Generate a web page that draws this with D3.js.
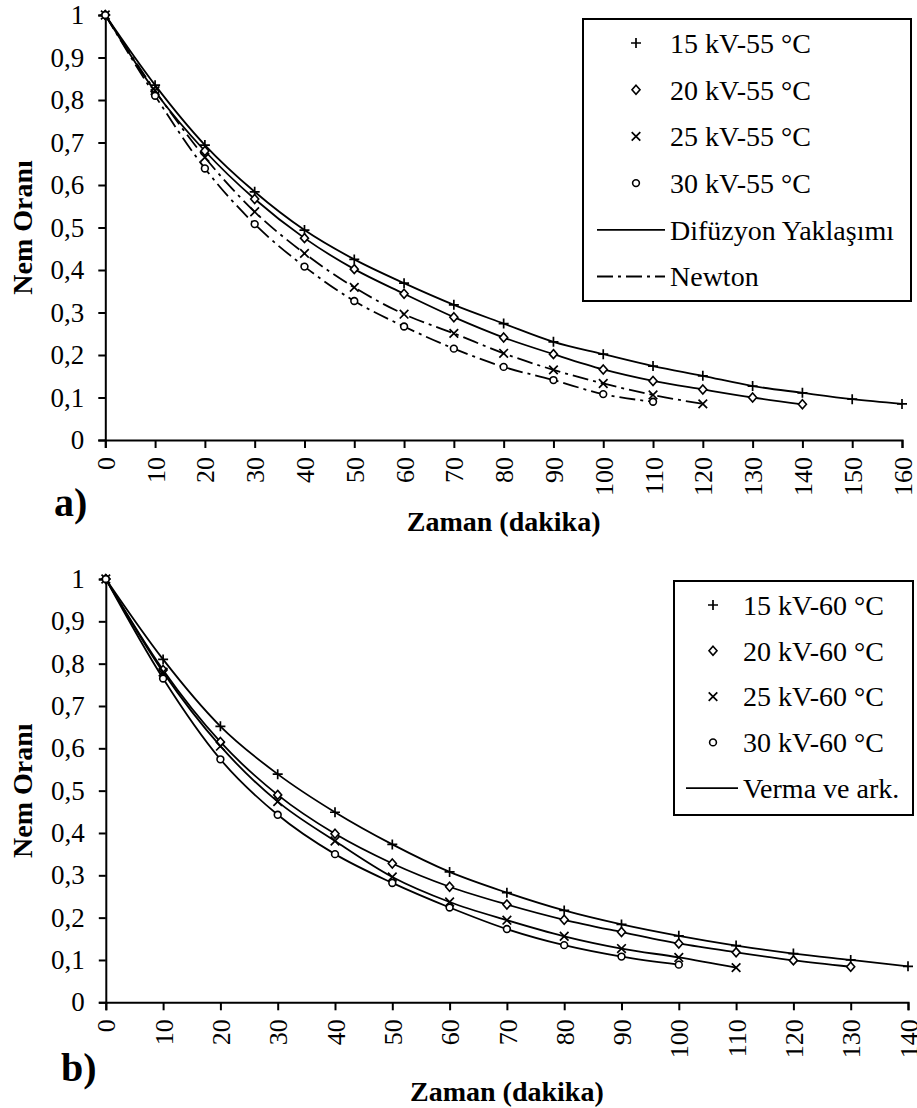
<!DOCTYPE html>
<html>
<head>
<meta charset="utf-8">
<script src="https://cdn.jsdelivr.net/npm/d3@7"></script>
<style>
  body { margin: 0; background: #fff; }
  svg text { font-family: "Liberation Serif", "Times New Roman", serif; fill: #000; }
</style>
</head>
<body>
<script>
// --- data ---
var yTicks = [0, 0.1, 0.2, 0.3, 0.4, 0.5, 0.6, 0.7, 0.8, 0.9, 1];

// panel a) 55 °C
var timeA = [0, 10, 20, 30, 40, 50, 60, 70, 80, 90, 100, 110, 120, 130, 140, 150, 160];
var mr15A = [1, 0.835, 0.694, 0.584, 0.494, 0.425, 0.369, 0.318, 0.274, 0.231, 0.202, 0.174, 0.151, 0.127, 0.111, 0.096, 0.085];
var mr20A = [1, 0.82, 0.68, 0.567, 0.475, 0.402, 0.344, 0.289, 0.241, 0.202, 0.166, 0.139, 0.119, 0.100, 0.084];
var mr25A = [1, 0.822, 0.665, 0.537, 0.439, 0.359, 0.296, 0.251, 0.204, 0.165, 0.133, 0.106, 0.085];
var mr30A = [1, 0.81, 0.639, 0.508, 0.408, 0.327, 0.267, 0.215, 0.172, 0.141, 0.108, 0.090];
var labelsA = ["15 kV-55 °C", "20 kV-55 °C", "25 kV-55 °C", "30 kV-55 °C"];

// panel b) 60 °C
var timeB = [0, 10, 20, 30, 40, 50, 60, 70, 80, 90, 100, 110, 120, 130, 140];
var mr15B = [1, 0.81, 0.652, 0.539, 0.449, 0.373, 0.308, 0.259, 0.217, 0.184, 0.157, 0.134, 0.115, 0.100, 0.085];
var mr20B = [1, 0.785, 0.615, 0.49, 0.398, 0.328, 0.273, 0.231, 0.195, 0.166, 0.139, 0.118, 0.099, 0.084];
var mr25B = [1, 0.78, 0.605, 0.474, 0.381, 0.296, 0.237, 0.194, 0.156, 0.127, 0.106, 0.082];
var mr30B = [1, 0.765, 0.574, 0.443, 0.35, 0.282, 0.224, 0.173, 0.135, 0.108, 0.089];
var labelsB = ["15 kV-60 °C", "20 kV-60 °C", "25 kV-60 °C", "30 kV-60 °C"];

var markers = ["plus", "diamond", "cross", "circle"];
var dashDot = "16,5,3,5";
var serif = "'Liberation Serif', 'Times New Roman', serif";

var fmt = d3.formatLocale({decimal: ",", thousands: ".", grouping: [3], currency: ["", ""]}).format(".1~f");

var svg = d3.select("body").append("svg")
    .attr("width", 917)
    .attr("height", 1108)
    .style("font-family", serif);

function drawMarker(g, type) {
  if (type == "plus") {
    g.append("path").attr("d", "M-5,0H5M0,-5V5").attr("stroke", "#000").attr("stroke-width", 1.7).attr("fill", "none");
  } else if (type == "diamond") {
    g.append("path").attr("d", "M0,-4.5L4,0L0,4.5L-4,0Z").attr("stroke", "#000").attr("stroke-width", 1.6).attr("fill", "#fff");
  } else if (type == "cross") {
    g.append("path").attr("d", "M-4.3,-4.3L4.3,4.3M-4.3,4.3L4.3,-4.3").attr("stroke", "#000").attr("stroke-width", 1.7).attr("fill", "none");
  } else {
    g.append("circle").attr("r", 3.4).attr("stroke", "#000").attr("stroke-width", 1.6).attr("fill", "#fff");
  }
}

function drawPanel(p) {
  var x = d3.scaleLinear().domain([0, p.xMax]).range([p.left, p.right]);
  var y = d3.scaleLinear().domain([0, 1]).range([p.bottom, p.top]);
  var g = svg.append("g");

  // axes
  var yAxis = g.append("g")
      .attr("transform", "translate(" + p.left + ",0)")
      .call(d3.axisLeft(y).tickValues(yTicks).tickFormat(fmt).tickSize(7).tickPadding(14));
  var xAxis = g.append("g")
      .attr("transform", "translate(0," + p.bottom + ")")
      .call(d3.axisBottom(x).tickValues(p.time).tickFormat(d3.format("d")).tickSize(8));
  yAxis.attr("font-family", serif);
  xAxis.attr("font-family", serif);
  g.selectAll(".domain").attr("stroke", "#000").attr("stroke-width", 2);
  g.selectAll(".tick line").attr("stroke", "#000").attr("stroke-width", 2);
  yAxis.selectAll("text").attr("font-size", "27px");
  xAxis.selectAll("text")
      .attr("font-size", "26px")
      .attr("text-anchor", "end")
      .attr("transform", "rotate(-90)")
      .attr("x", -17)
      .attr("y", 0)
      .attr("dy", "0.35em");

  // lines + points
  var line = d3.line()
      .x(function(d) { return x(d[0]); })
      .y(function(d) { return y(d[1]); })
      .curve(d3.curveMonotoneX);

  p.series.forEach(function(s, i) {
    var pts = s.values.map(function(v, j) { return [p.time[j], v]; });
    g.append("path")
        .datum(pts)
        .attr("d", line)
        .attr("fill", "none")
        .attr("stroke", "#000")
        .attr("stroke-width", 1.8)
        .attr("stroke-dasharray", s.dash ? dashDot : null);
    g.selectAll(".pt" + i)
        .data(pts)
        .enter()
        .append("g")
        .attr("transform", function(d) { return "translate(" + x(d[0]) + "," + y(d[1]) + ")"; })
        .each(function() { drawMarker(d3.select(this), markers[i]); });
  });

  // legend
  var lg = p.legend;
  g.append("rect")
      .attr("x", lg.x).attr("y", lg.y)
      .attr("width", lg.w).attr("height", lg.h)
      .attr("fill", "#fff").attr("stroke", "#000").attr("stroke-width", 2);
  lg.rows.forEach(function(r, i) {
    var cy = lg.y + lg.first + i * lg.step;
    if (r.marker) {
      var mg = g.append("g").attr("transform", "translate(" + lg.mx + "," + cy + ")");
      drawMarker(mg, r.marker);
    } else {
      g.append("line")
          .attr("x1", lg.lx1).attr("x2", lg.lx2)
          .attr("y1", cy).attr("y2", cy)
          .attr("stroke", "#000").attr("stroke-width", 1.8)
          .attr("stroke-dasharray", r.dash ? dashDot : null);
    }
    g.append("text")
        .attr("x", lg.tx).attr("y", cy)
        .attr("dy", "0.35em")
        .attr("font-size", "28px")
        .text(r.label);
  });

  // titles
  g.append("text")
      .attr("transform", "translate(" + 32 + "," + ((p.top + p.bottom) / 2) + ") rotate(-90)")
      .attr("text-anchor", "middle")
      .attr("font-size", "28px")
      .attr("font-weight", "bold")
      .text("Nem Oranı");
  g.append("text")
      .attr("x", (p.left + p.right) / 2)
      .attr("y", p.xTitleY)
      .attr("text-anchor", "middle")
      .attr("font-size", "28px")
      .attr("font-weight", "bold")
      .text("Zaman (dakika)");
  g.append("text")
      .attr("x", p.tagX)
      .attr("y", p.tagY)
      .attr("font-size", "40px")
      .attr("font-weight", "bold")
      .text(p.tag);
}

drawPanel({
  time: timeA, xMax: 160,
  left: 105.3, right: 902, top: 15, bottom: 440,
  series: [
    {values: mr15A, dash: false},
    {values: mr20A, dash: false},
    {values: mr25A, dash: true},
    {values: mr30A, dash: true}
  ],
  legend: {
    x: 583, y: 19, w: 328, h: 282, first: 24, step: 46.7,
    mx: 636, tx: 670, lx1: 597, lx2: 665,
    rows: [
      {label: labelsA[0], marker: "plus"},
      {label: labelsA[1], marker: "diamond"},
      {label: labelsA[2], marker: "cross"},
      {label: labelsA[3], marker: "circle"},
      {label: "Difüzyon Yaklaşımı", dash: false},
      {label: "Newton", dash: true}
    ]
  },
  xTitleY: 531, tag: "a)", tagX: 54, tagY: 516
});

drawPanel({
  time: timeB, xMax: 140,
  left: 105.8, right: 908, top: 579, bottom: 1002.3,
  series: [
    {values: mr15B, dash: false},
    {values: mr20B, dash: false},
    {values: mr25B, dash: false},
    {values: mr30B, dash: false}
  ],
  legend: {
    x: 674, y: 581, w: 239, h: 234, first: 24, step: 45.8,
    mx: 713, tx: 743, lx1: 686, lx2: 738,
    rows: [
      {label: labelsB[0], marker: "plus"},
      {label: labelsB[1], marker: "diamond"},
      {label: labelsB[2], marker: "cross"},
      {label: labelsB[3], marker: "circle"},
      {label: "Verma ve ark.", dash: false}
    ]
  },
  xTitleY: 1101, tag: "b)", tagX: 61, tagY: 1081
});
</script>
</body>
</html>
